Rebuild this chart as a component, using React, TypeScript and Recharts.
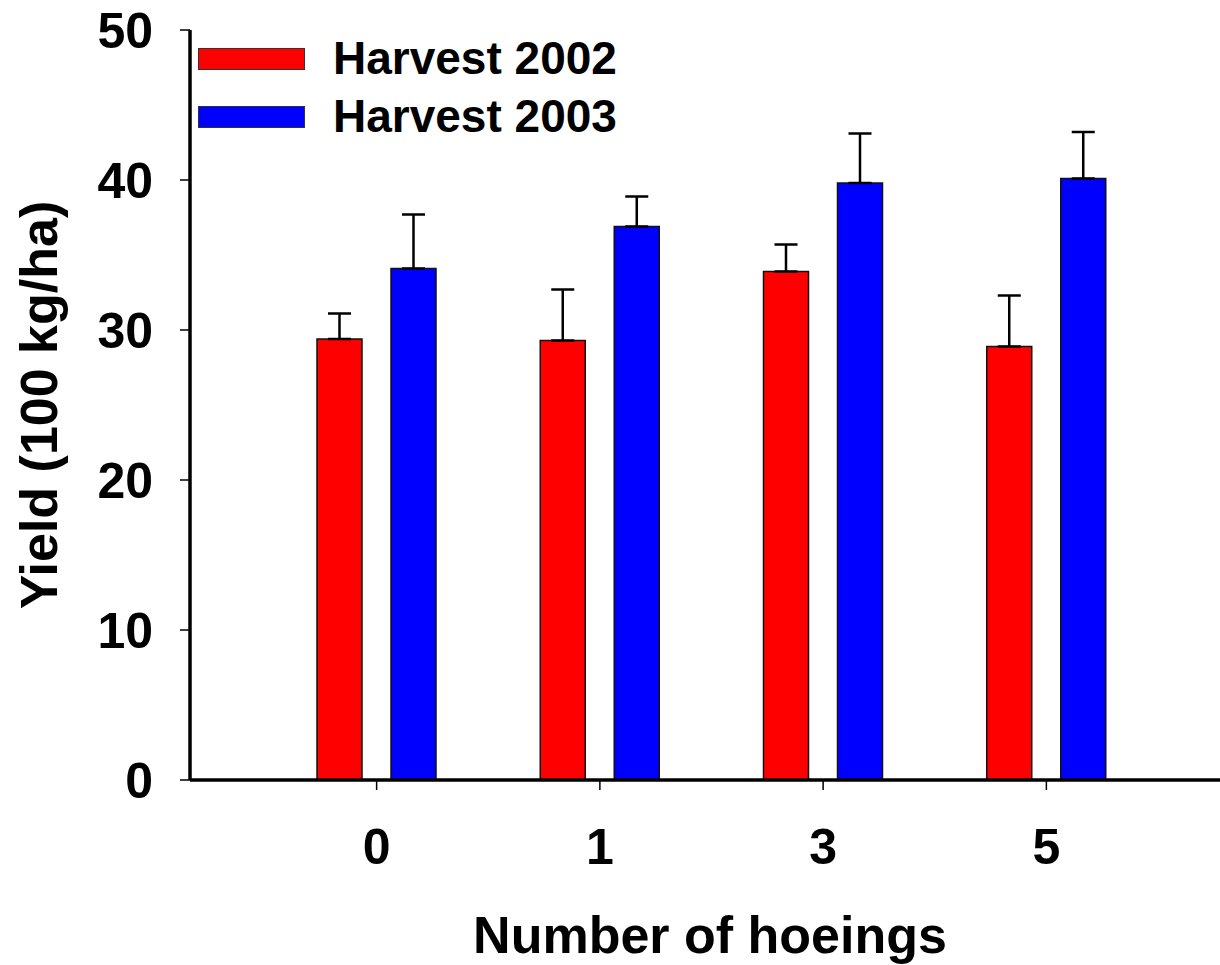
import React from "react";
import {
  BarChart,
  Bar,
  XAxis,
  YAxis,
  ErrorBar,
  Legend,
} from "recharts";

const hoeings = ["0", "1", "3", "5"];
const harvest2002 = [29.4, 29.3, 33.9, 28.9];
const harvest2002Err = [1.7, 3.4, 1.8, 3.4];
const harvest2003 = [34.1, 36.9, 39.8, 40.1];
const harvest2003Err = [3.6, 2.0, 3.3, 3.1];
const yTicks = [0, 10, 20, 30, 40, 50];

const FONT = "'Liberation Sans', Arial, Helvetica, sans-serif";

// one-sided (upper) error bars: [below, above]
const data = hoeings.map((h, i) => ({
  hoeings: h,
  h2002: harvest2002[i],
  e2002: [0, harvest2002Err[i]],
  h2003: harvest2003[i],
  e2003: [0, harvest2003Err[i]],
}));

const tickStyle = {
  fill: "#000",
  fontSize: 50,
  fontWeight: "bold",
  fontFamily: FONT,
};

function LegendBox({ payload }: any) {
  return (
    <div style={{ fontFamily: FONT, fontWeight: "bold", fontSize: 46 }}>
      {(payload || []).map((p: any) => (
        <div
          key={p.value}
          style={{ display: "flex", height: 58, lineHeight: "45px" }}
        >
          <div
            style={{
              width: 107,
              height: 22,
              marginTop: 12,
              boxSizing: "border-box",
              border: "1.5px solid #333",
              background: p.color,
            }}
          />
          <span style={{ marginLeft: 28, color: "#000" }}>{p.value}</span>
        </div>
      ))}
    </div>
  );
}

function YTitle({ viewBox }: any) {
  const x = viewBox.x + 57;
  const y = viewBox.y + viewBox.height / 2;
  return (
    <text
      x={x}
      y={y}
      transform={`rotate(-90, ${x}, ${y})`}
      textAnchor="middle"
      fill="#000"
      fontSize={52}
      fontWeight="bold"
      fontFamily={FONT}
    >
      Yield (100 kg/ha)
    </text>
  );
}

function XTitle({ viewBox }: any) {
  const x = viewBox.x + viewBox.width / 2 + 5;
  return (
    <text
      x={x}
      y={953}
      textAnchor="middle"
      fill="#000"
      fontSize={52}
      fontWeight="bold"
      fontFamily={FONT}
    >
      Number of hoeings
    </text>
  );
}

export default function App() {
  return (
    <div style={{ position: "absolute", left: 0, top: 0, background: "#fff" }}>
      <BarChart
        width={1220}
        height={965}
        data={data}
        margin={{ top: 30, right: 0, bottom: 0, left: 0 }}
        barSize={45}
        barGap={29}
      >
        <XAxis
          dataKey="hoeings"
          height={185}
          padding={{ left: 75, right: 62 }}
          tick={tickStyle}
          tickSize={10}
          tickMargin={38}
          axisLine={{ stroke: "#000", strokeWidth: 3.5 }}
          tickLine={{ stroke: "#000", strokeWidth: 1.5 }}
          interval={0}
          label={{ content: XTitle }}
        />
        <YAxis
          width={190}
          domain={[0, 50]}
          ticks={yTicks}
          interval={0}
          tick={tickStyle}
          tickSize={10}
          tickMargin={27}
          axisLine={{ stroke: "#000", strokeWidth: 3.5 }}
          tickLine={{ stroke: "#000", strokeWidth: 1.5 }}
          label={{ content: YTitle }}
        />
        <Legend
          layout="vertical"
          align="center"
          verticalAlign="middle"
          content={LegendBox}
          wrapperStyle={{ left: 198, top: 36, width: 460, height: 116 }}
        />
        <Bar
          dataKey="h2002"
          name="Harvest 2002"
          fill="#ff0000"
          stroke="#111"
          strokeWidth={1.5}
          isAnimationActive={false}
        >
          <ErrorBar
            dataKey="e2002"
            direction="y"
            width={11.5}
            stroke="#000"
            strokeWidth={2.5}
          />
        </Bar>
        <Bar
          dataKey="h2003"
          name="Harvest 2003"
          fill="#0000ff"
          stroke="#111"
          strokeWidth={1.5}
          isAnimationActive={false}
        >
          <ErrorBar
            dataKey="e2003"
            direction="y"
            width={11.5}
            stroke="#000"
            strokeWidth={2.5}
          />
        </Bar>
      </BarChart>
    </div>
  );
}
